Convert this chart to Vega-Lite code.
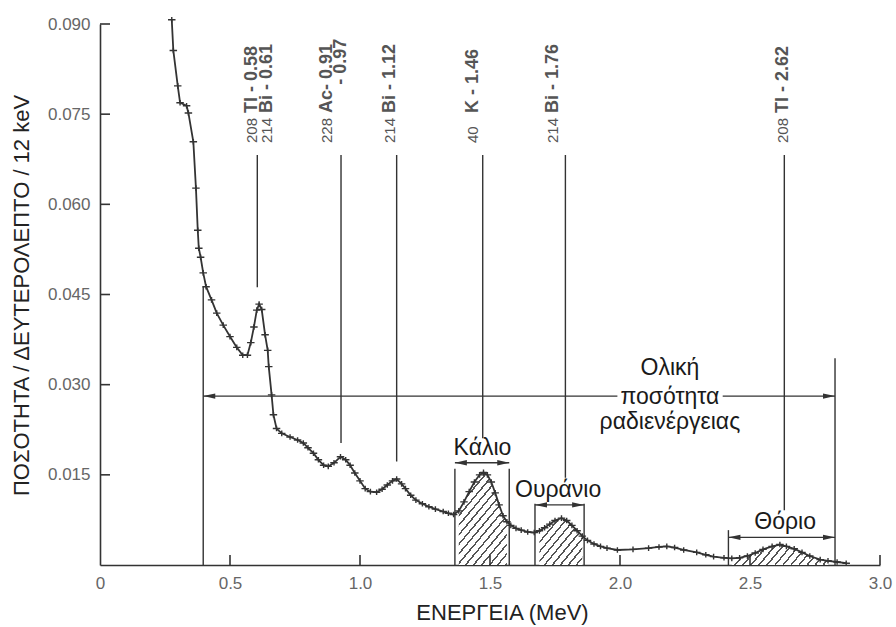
{
  "$schema": "https://vega.github.io/schema/vega-lite/v6.json",
  "width": 780,
  "height": 541,
  "autosize": {"type": "none"},
  "padding": {"left": 100, "top": 24, "right": 16, "bottom": 62},
  "background": "white",
  "config": {"view": {"stroke": null}, "font": "Liberation Sans"},
  "datasets": {
    "spectrum": [
      {"x":0.276,"y":0.0907},{"x":0.282,"y":0.0856},{"x":0.299,"y":0.0797},{"x":0.308,"y":0.0769},
      {"x":0.333,"y":0.0764},{"x":0.340,"y":0.0752},{"x":0.359,"y":0.0704},{"x":0.369,"y":0.0627},
      {"x":0.376,"y":0.0557},{"x":0.380,"y":0.0527},{"x":0.387,"y":0.0512},{"x":0.397,"y":0.0486},
      {"x":0.408,"y":0.0463},{"x":0.429,"y":0.0441},{"x":0.449,"y":0.0419},{"x":0.474,"y":0.0399},
      {"x":0.500,"y":0.0380},{"x":0.526,"y":0.0362},{"x":0.549,"y":0.0349},{"x":0.567,"y":0.0349},
      {"x":0.580,"y":0.0370},{"x":0.592,"y":0.0396},{"x":0.603,"y":0.0424},{"x":0.612,"y":0.0434},
      {"x":0.622,"y":0.0425},{"x":0.635,"y":0.0383},{"x":0.645,"y":0.0357},{"x":0.649,"y":0.0330},
      {"x":0.660,"y":0.0283},{"x":0.667,"y":0.0250},{"x":0.679,"y":0.0227},{"x":0.699,"y":0.0219},
      {"x":0.731,"y":0.0213},{"x":0.760,"y":0.0208},{"x":0.782,"y":0.0203},{"x":0.800,"y":0.0195},
      {"x":0.821,"y":0.0186},{"x":0.840,"y":0.0175},{"x":0.860,"y":0.0166},{"x":0.878,"y":0.0164},
      {"x":0.900,"y":0.0170},{"x":0.925,"y":0.0180},{"x":0.945,"y":0.0175},{"x":0.962,"y":0.0166},
      {"x":0.980,"y":0.0153},{"x":1.000,"y":0.0140},{"x":1.020,"y":0.0127},{"x":1.040,"y":0.0122},
      {"x":1.064,"y":0.0121},{"x":1.085,"y":0.0126},{"x":1.105,"y":0.0133},{"x":1.125,"y":0.0140},
      {"x":1.141,"y":0.0143},{"x":1.160,"y":0.0135},{"x":1.175,"y":0.0127},{"x":1.195,"y":0.0116},
      {"x":1.215,"y":0.0108},{"x":1.240,"y":0.0102},{"x":1.265,"y":0.0097},{"x":1.290,"y":0.0093},
      {"x":1.320,"y":0.0089},{"x":1.340,"y":0.0086},{"x":1.360,"y":0.0084},{"x":1.380,"y":0.0090},
      {"x":1.400,"y":0.0105},{"x":1.420,"y":0.0122},{"x":1.440,"y":0.0138},{"x":1.460,"y":0.0150},
      {"x":1.475,"y":0.0154},{"x":1.490,"y":0.0150},{"x":1.505,"y":0.0138},{"x":1.520,"y":0.0120},
      {"x":1.535,"y":0.0100},{"x":1.550,"y":0.0082},{"x":1.565,"y":0.0072},{"x":1.580,"y":0.0066},
      {"x":1.600,"y":0.0061},{"x":1.620,"y":0.0058},{"x":1.645,"y":0.0055},{"x":1.670,"y":0.0054},
      {"x":1.690,"y":0.0057},{"x":1.710,"y":0.0062},{"x":1.730,"y":0.0068},{"x":1.750,"y":0.0074},
      {"x":1.775,"y":0.0078},{"x":1.795,"y":0.0074},{"x":1.815,"y":0.0066},{"x":1.835,"y":0.0057},
      {"x":1.855,"y":0.0048},{"x":1.875,"y":0.0041},{"x":1.900,"y":0.0035},{"x":1.925,"y":0.0031},
      {"x":1.950,"y":0.0028},{"x":1.990,"y":0.0025},{"x":2.050,"y":0.0026},{"x":2.110,"y":0.0028},
      {"x":2.150,"y":0.0030},{"x":2.180,"y":0.0031},{"x":2.210,"y":0.0029},{"x":2.245,"y":0.0025},
      {"x":2.295,"y":0.0021},{"x":2.330,"y":0.0017},{"x":2.360,"y":0.0014},{"x":2.400,"y":0.0012},
      {"x":2.430,"y":0.0011},{"x":2.460,"y":0.0012},{"x":2.490,"y":0.0015},{"x":2.520,"y":0.0020},
      {"x":2.550,"y":0.0026},{"x":2.585,"y":0.0031},{"x":2.615,"y":0.0034},{"x":2.640,"y":0.0031},
      {"x":2.670,"y":0.0027},{"x":2.700,"y":0.0021},{"x":2.730,"y":0.0015},{"x":2.770,"y":0.0009},
      {"x":2.800,"y":0.0007},{"x":2.835,"y":0.0005},{"x":2.870,"y":0.0003}
    ],
    "segs": [
      {"x":0.397,"y":0.0463,"x2":0.397,"y2":0},
      {"x":2.827,"y":0.0344,"x2":2.827,"y2":0},
      {"x":0.397,"y":0.0281,"x2":1.99,"y2":0.0281},
      {"x":2.395,"y":0.0281,"x2":2.827,"y2":0.0281},
      {"x":1.365,"y":0.016,"x2":1.365,"y2":0},
      {"x":1.574,"y":0.016,"x2":1.574,"y2":0},
      {"x":1.365,"y":0.017,"x2":1.574,"y2":0.017},
      {"x":1.673,"y":0.0102,"x2":1.673,"y2":0},
      {"x":1.862,"y":0.0102,"x2":1.862,"y2":0},
      {"x":1.673,"y":0.0100,"x2":1.862,"y2":0.0100},
      {"x":2.417,"y":0.0058,"x2":2.417,"y2":0},
      {"x":2.417,"y":0.0046,"x2":2.827,"y2":0.0046},
      {"x":0.605,"y":0.0682,"x2":0.605,"y2":0.0462},
      {"x":0.927,"y":0.0682,"x2":0.927,"y2":0.0203},
      {"x":1.141,"y":0.0682,"x2":1.141,"y2":0.0172},
      {"x":1.472,"y":0.0682,"x2":1.472,"y2":0.0211},
      {"x":1.79,"y":0.0682,"x2":1.79,"y2":0.0145},
      {"x":2.632,"y":0.0682,"x2":2.632,"y2":0.0091}
    ],
    "ticks": [
      {"x":0.5,"y":0,"x2":0.5,"y2":0.00166},
      {"x":1.0,"y":0,"x2":1.0,"y2":0.00166},
      {"x":1.5,"y":0,"x2":1.5,"y2":0.00166},
      {"x":2.0,"y":0,"x2":2.0,"y2":0.00166},
      {"x":2.5,"y":0,"x2":2.5,"y2":0.00166},
      {"x":3.0,"y":0,"x2":3.0,"y2":0.00166},
      {"x":0,"y":0.015,"x2":0.0385,"y2":0.015},
      {"x":0,"y":0.030,"x2":0.0385,"y2":0.030},
      {"x":0,"y":0.045,"x2":0.0385,"y2":0.045},
      {"x":0,"y":0.060,"x2":0.0385,"y2":0.060},
      {"x":0,"y":0.075,"x2":0.0385,"y2":0.075},
      {"x":0,"y":0.090,"x2":0.0385,"y2":0.090}
    ],
    "arrows": [
      {"x":0.397,"y":0.0281,"d":"L"},{"x":2.827,"y":0.0281,"d":"R"},
      {"x":1.365,"y":0.017,"d":"L"},{"x":1.574,"y":0.017,"d":"R"},
      {"x":1.673,"y":0.0100,"d":"L"},{"x":1.862,"y":0.0100,"d":"R"},
      {"x":2.417,"y":0.0046,"d":"L"},{"x":2.827,"y":0.0046,"d":"R"}
    ],
    "names": [
      {"x":1.471,"y":0.0195,"t":"Κάλιο"},
      {"x":1.762,"y":0.0125,"t":"Ουράνιο"},
      {"x":2.635,"y":0.0072,"t":"Θόριο"},
      {"x":2.192,"y":0.0328,"t":"Ολική"},
      {"x":2.192,"y":0.0280,"t":"ποσότητα"},
      {"x":2.192,"y":0.0238,"t":"ραδιενέργειας"}
    ],
    "iso": [
      {"x":0.583,"y":0.0702,"n":"208","r":"Tl - 0.58"},
      {"x":0.641,"y":0.0702,"n":"214","r":"Bi - 0.61"},
      {"x":0.872,"y":0.0702,"n":"228","r":"Ac- 0.91"},
      {"x":0.926,"y":0.0749,"n":"","r":"- 0.97"},
      {"x":1.115,"y":0.0702,"n":"214","r":"Bi - 1.12"},
      {"x":1.436,"y":0.0702,"n":"40","r":"K - 1.46"},
      {"x":1.744,"y":0.0702,"n":"214","r":"Bi - 1.76"},
      {"x":2.627,"y":0.0702,"n":"208","r":"Tl - 2.62"}
    ]
  },
  "encoding": {
    "x": {
      "field": "x", "type": "quantitative",
      "scale": {"domain": [0, 3], "nice": false, "zero": false},
      "axis": {
        "values": [0, 0.5, 1, 1.5, 2, 2.5, 3],
        "labelExpr": "datum.value == 0 ? '0' : format(datum.value, '.1f')",
        "title": "ΕΝΕΡΓΕΙΑ (MeV)",
        "grid": false,
        "ticks": true, "tickSize": 0,
        "domainColor": "#333", "domainWidth": 1.6,
        "labelColor": "#666", "labelFontSize": 17, "labelPadding": 10,
        "labelFont": "Liberation Sans", "labelFlush": false,
        "titleFont": "Liberation Sans", "titleFontSize": 22, "titleFontWeight": "normal",
        "titleColor": "#222", "titleX": 402, "titleY": 37, "titleAlign": "center", "titleBaseline": "top"
      }
    },
    "y": {
      "field": "y", "type": "quantitative",
      "scale": {"domain": [0, 0.09], "nice": false, "zero": false},
      "axis": {
        "values": [0.015, 0.03, 0.045, 0.06, 0.075, 0.09],
        "format": ".3f",
        "title": "ΠΟΣΟΤΗΤΑ / ΔΕΥΤΕΡΟΛΕΠΤΟ / 12 keV",
        "grid": false,
        "ticks": true, "tickSize": 0,
        "domainColor": "#333", "domainWidth": 1.6,
        "labelColor": "#666", "labelFontSize": 17, "labelPadding": 10,
        "labelFont": "Liberation Sans", "labelFlush": false,
        "titleFont": "Liberation Sans", "titleFontSize": 22, "titleFontWeight": "normal",
        "titleColor": "#222", "titleX": -79, "titleY": 271, "titleAngle": 270,
        "titleAlign": "center", "titleBaseline": "middle"
      }
    }
  },
  "layer": [
    {
      "data": {"name": "spectrum"},
      "transform": [{"filter": {"field": "x", "range": [1.365, 1.574]}}],
      "mark": {"type": "area", "fill": {"gradient": "linear", "x1": 0, "y1": 0, "x2": 0.739, "y2": 1.194, "stops": [
        {"offset":0,"color":"#fff"},
        {"offset":0.025,"color":"#fff"},{"offset":0.025,"color":"#555"},{"offset":0.04,"color":"#555"},{"offset":0.04,"color":"#fff"},
        {"offset":0.0875,"color":"#fff"},{"offset":0.0875,"color":"#555"},{"offset":0.1025,"color":"#555"},{"offset":0.1025,"color":"#fff"},
        {"offset":0.15,"color":"#fff"},{"offset":0.15,"color":"#555"},{"offset":0.165,"color":"#555"},{"offset":0.165,"color":"#fff"},
        {"offset":0.2125,"color":"#fff"},{"offset":0.2125,"color":"#555"},{"offset":0.2275,"color":"#555"},{"offset":0.2275,"color":"#fff"},
        {"offset":0.275,"color":"#fff"},{"offset":0.275,"color":"#555"},{"offset":0.29,"color":"#555"},{"offset":0.29,"color":"#fff"},
        {"offset":0.3375,"color":"#fff"},{"offset":0.3375,"color":"#555"},{"offset":0.3525,"color":"#555"},{"offset":0.3525,"color":"#fff"},
        {"offset":0.4,"color":"#fff"},{"offset":0.4,"color":"#555"},{"offset":0.415,"color":"#555"},{"offset":0.415,"color":"#fff"},
        {"offset":0.4625,"color":"#fff"},{"offset":0.4625,"color":"#555"},{"offset":0.4775,"color":"#555"},{"offset":0.4775,"color":"#fff"},
        {"offset":0.525,"color":"#fff"},{"offset":0.525,"color":"#555"},{"offset":0.54,"color":"#555"},{"offset":0.54,"color":"#fff"},
        {"offset":0.5875,"color":"#fff"},{"offset":0.5875,"color":"#555"},{"offset":0.6025,"color":"#555"},{"offset":0.6025,"color":"#fff"},
        {"offset":0.65,"color":"#fff"},{"offset":0.65,"color":"#555"},{"offset":0.665,"color":"#555"},{"offset":0.665,"color":"#fff"},
        {"offset":0.7125,"color":"#fff"},{"offset":0.7125,"color":"#555"},{"offset":0.7275,"color":"#555"},{"offset":0.7275,"color":"#fff"},
        {"offset":0.775,"color":"#fff"},{"offset":0.775,"color":"#555"},{"offset":0.79,"color":"#555"},{"offset":0.79,"color":"#fff"},
        {"offset":0.8375,"color":"#fff"},{"offset":0.8375,"color":"#555"},{"offset":0.8525,"color":"#555"},{"offset":0.8525,"color":"#fff"},
        {"offset":0.9,"color":"#fff"},{"offset":0.9,"color":"#555"},{"offset":0.915,"color":"#555"},{"offset":0.915,"color":"#fff"},
        {"offset":0.9625,"color":"#fff"},{"offset":0.9625,"color":"#555"},{"offset":0.9775,"color":"#555"},{"offset":0.9775,"color":"#fff"},
        {"offset":1,"color":"#fff"}
      ]}}
    },
    {
      "data": {"name": "spectrum"},
      "transform": [{"filter": {"field": "x", "range": [1.673, 1.862]}}],
      "mark": {"type": "area", "fill": {"gradient": "linear", "x1": 0, "y1": 0, "x2": 1.627, "y2": 1.481, "stops": [
        {"offset":0,"color":"#fff"},
        {"offset":0.025,"color":"#fff"},{"offset":0.025,"color":"#555"},{"offset":0.04,"color":"#555"},{"offset":0.04,"color":"#fff"},
        {"offset":0.0875,"color":"#fff"},{"offset":0.0875,"color":"#555"},{"offset":0.1025,"color":"#555"},{"offset":0.1025,"color":"#fff"},
        {"offset":0.15,"color":"#fff"},{"offset":0.15,"color":"#555"},{"offset":0.165,"color":"#555"},{"offset":0.165,"color":"#fff"},
        {"offset":0.2125,"color":"#fff"},{"offset":0.2125,"color":"#555"},{"offset":0.2275,"color":"#555"},{"offset":0.2275,"color":"#fff"},
        {"offset":0.275,"color":"#fff"},{"offset":0.275,"color":"#555"},{"offset":0.29,"color":"#555"},{"offset":0.29,"color":"#fff"},
        {"offset":0.3375,"color":"#fff"},{"offset":0.3375,"color":"#555"},{"offset":0.3525,"color":"#555"},{"offset":0.3525,"color":"#fff"},
        {"offset":0.4,"color":"#fff"},{"offset":0.4,"color":"#555"},{"offset":0.415,"color":"#555"},{"offset":0.415,"color":"#fff"},
        {"offset":0.4625,"color":"#fff"},{"offset":0.4625,"color":"#555"},{"offset":0.4775,"color":"#555"},{"offset":0.4775,"color":"#fff"},
        {"offset":0.525,"color":"#fff"},{"offset":0.525,"color":"#555"},{"offset":0.54,"color":"#555"},{"offset":0.54,"color":"#fff"},
        {"offset":0.5875,"color":"#fff"},{"offset":0.5875,"color":"#555"},{"offset":0.6025,"color":"#555"},{"offset":0.6025,"color":"#fff"},
        {"offset":0.65,"color":"#fff"},{"offset":0.65,"color":"#555"},{"offset":0.665,"color":"#555"},{"offset":0.665,"color":"#fff"},
        {"offset":0.7125,"color":"#fff"},{"offset":0.7125,"color":"#555"},{"offset":0.7275,"color":"#555"},{"offset":0.7275,"color":"#fff"},
        {"offset":0.775,"color":"#fff"},{"offset":0.775,"color":"#555"},{"offset":0.79,"color":"#555"},{"offset":0.79,"color":"#fff"},
        {"offset":0.8375,"color":"#fff"},{"offset":0.8375,"color":"#555"},{"offset":0.8525,"color":"#555"},{"offset":0.8525,"color":"#fff"},
        {"offset":0.9,"color":"#fff"},{"offset":0.9,"color":"#555"},{"offset":0.915,"color":"#555"},{"offset":0.915,"color":"#fff"},
        {"offset":0.9625,"color":"#fff"},{"offset":0.9625,"color":"#555"},{"offset":0.9775,"color":"#555"},{"offset":0.9775,"color":"#fff"},
        {"offset":1,"color":"#fff"}
      ]}}
    },
    {
      "data": {"name": "spectrum"},
      "transform": [{"filter": {"field": "x", "range": [2.417, 2.827]}}],
      "mark": {"type": "area", "fill": {"gradient": "linear", "x1": 0, "y1": 0, "x2": 1.293, "y2": 0.229, "stops": [
        {"offset":0,"color":"#fff"},
        {"offset":0.025,"color":"#fff"},{"offset":0.025,"color":"#555"},{"offset":0.04,"color":"#555"},{"offset":0.04,"color":"#fff"},
        {"offset":0.0875,"color":"#fff"},{"offset":0.0875,"color":"#555"},{"offset":0.1025,"color":"#555"},{"offset":0.1025,"color":"#fff"},
        {"offset":0.15,"color":"#fff"},{"offset":0.15,"color":"#555"},{"offset":0.165,"color":"#555"},{"offset":0.165,"color":"#fff"},
        {"offset":0.2125,"color":"#fff"},{"offset":0.2125,"color":"#555"},{"offset":0.2275,"color":"#555"},{"offset":0.2275,"color":"#fff"},
        {"offset":0.275,"color":"#fff"},{"offset":0.275,"color":"#555"},{"offset":0.29,"color":"#555"},{"offset":0.29,"color":"#fff"},
        {"offset":0.3375,"color":"#fff"},{"offset":0.3375,"color":"#555"},{"offset":0.3525,"color":"#555"},{"offset":0.3525,"color":"#fff"},
        {"offset":0.4,"color":"#fff"},{"offset":0.4,"color":"#555"},{"offset":0.415,"color":"#555"},{"offset":0.415,"color":"#fff"},
        {"offset":0.4625,"color":"#fff"},{"offset":0.4625,"color":"#555"},{"offset":0.4775,"color":"#555"},{"offset":0.4775,"color":"#fff"},
        {"offset":0.525,"color":"#fff"},{"offset":0.525,"color":"#555"},{"offset":0.54,"color":"#555"},{"offset":0.54,"color":"#fff"},
        {"offset":0.5875,"color":"#fff"},{"offset":0.5875,"color":"#555"},{"offset":0.6025,"color":"#555"},{"offset":0.6025,"color":"#fff"},
        {"offset":0.65,"color":"#fff"},{"offset":0.65,"color":"#555"},{"offset":0.665,"color":"#555"},{"offset":0.665,"color":"#fff"},
        {"offset":0.7125,"color":"#fff"},{"offset":0.7125,"color":"#555"},{"offset":0.7275,"color":"#555"},{"offset":0.7275,"color":"#fff"},
        {"offset":0.775,"color":"#fff"},{"offset":0.775,"color":"#555"},{"offset":0.79,"color":"#555"},{"offset":0.79,"color":"#fff"},
        {"offset":0.8375,"color":"#fff"},{"offset":0.8375,"color":"#555"},{"offset":0.8525,"color":"#555"},{"offset":0.8525,"color":"#fff"},
        {"offset":0.9,"color":"#fff"},{"offset":0.9,"color":"#555"},{"offset":0.915,"color":"#555"},{"offset":0.915,"color":"#fff"},
        {"offset":0.9625,"color":"#fff"},{"offset":0.9625,"color":"#555"},{"offset":0.9775,"color":"#555"},{"offset":0.9775,"color":"#fff"},
        {"offset":1,"color":"#fff"}
      ]}}
    },
    {
      "data": {"name": "ticks"},
      "mark": {"type": "rule", "color": "#333", "strokeWidth": 1.6},
      "encoding": {
        "x2": {"field": "x2"},
        "y2": {"field": "y2"}
      }
    },
    {
      "data": {"name": "segs"},
      "mark": {"type": "rule", "color": "#333", "strokeWidth": 1.4},
      "encoding": {
        "x2": {"field": "x2"},
        "y2": {"field": "y2"}
      }
    },
    {
      "data": {"name": "spectrum"},
      "mark": {"type": "line", "color": "#333", "strokeWidth": 1.8}
    },
    {
      "data": {"name": "spectrum"},
      "mark": {"type": "point", "shape": "M-1,0L1,0M0,-0.75L0,0.75", "filled": false, "size": 56, "color": "#333", "strokeWidth": 1.4, "opacity": 1}
    },
    {
      "data": {"name": "arrows"},
      "mark": {"type": "point", "filled": true, "size": 36, "color": "#333", "opacity": 1},
      "encoding": {
        "shape": {"field": "d", "type": "nominal", "scale": {"domain": ["L", "R"], "range": ["M0,0L4,-0.9L4,0.9Z", "M0,0L-4,-0.9L-4,0.9Z"]}, "legend": null}
      }
    },
    {
      "data": {"name": "names"},
      "mark": {"type": "text", "font": "Liberation Sans", "fontSize": 23, "color": "#1a1a1a", "align": "center", "baseline": "middle"},
      "encoding": {"text": {"field": "t"}}
    },
    {
      "data": {"name": "iso"},
      "mark": {"type": "text", "font": "Liberation Sans", "fontSize": 15, "color": "#555", "angle": 270, "align": "left", "baseline": "middle"},
      "encoding": {"text": {"field": "n"}}
    },
    {
      "data": {"name": "iso"},
      "mark": {"type": "text", "font": "Liberation Sans", "fontSize": 18, "fontWeight": "bold", "color": "#555", "angle": 270, "align": "left", "baseline": "middle", "dx": 30},
      "encoding": {"text": {"field": "r"}}
    }
  ]
}
